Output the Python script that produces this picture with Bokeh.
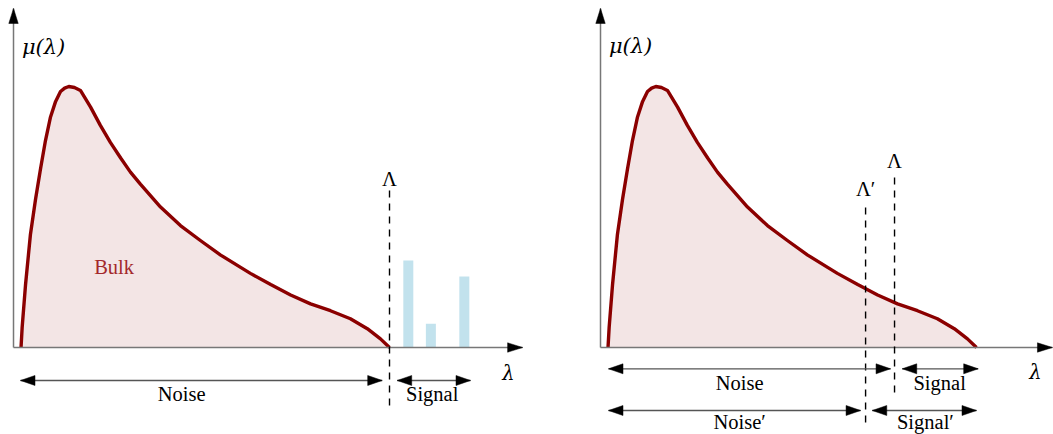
import math
from bokeh.plotting import figure
from bokeh.layouts import row
from bokeh.models import Range1d
from bokeh.core.properties import value
from bokeh.embed import file_html
from bokeh.resources import INLINE

# ---------------- data ----------------
# bulk spectral density mu(lambda)
lam = [0.20, 0.23, 0.32, 0.45, 0.585, 0.72, 0.85, 0.98, 1.12, 1.25, 1.36, 1.47, 1.62,
       1.78, 2.05, 2.31, 2.58, 2.85, 3.11, 3.38, 3.91, 4.44, 4.97, 5.51, 6.04, 6.30,
       6.84, 7.37, 7.90, 8.43, 8.96, 9.41, 9.76, 10.0]
mu = [0.0, 0.77, 2.41, 4.33, 5.67, 6.86, 7.93, 8.81, 9.43, 9.81, 9.94, 10.0, 9.96,
      9.85, 9.21, 8.51, 7.85, 7.26, 6.72, 6.25, 5.38, 4.67, 4.10, 3.54, 3.07, 2.84,
      2.41, 2.01, 1.67, 1.41, 1.10, 0.72, 0.33, 0.0]

# outlier (signal) eigenvalues in the left panel
spike_lam = [10.50, 11.10, 11.99]
spike_height = [3.33, 0.91, 2.72]

cut_left = 10.0          # Lambda, left panel
cut_right = 7.82         # Lambda, right panel
cut_right_prime = 7.05   # Lambda', right panel

y_label = "μ(λ)"
x_label = "λ"
cut_label = "Λ"
cut_label_prime = "Λ′"
bulk_label = "Bulk"
noise_label = "Noise"
signal_label = "Signal"
noise_label_prime = "Noise′"
signal_label_prime = "Signal′"

# ---------------- layout / style ----------------
PX_LAM = 37.6   # pixels per lambda unit
PX_MU = 26.1    # pixels per mu unit
H = 434
W_LEFT = 560
W_RIGHT = 493
Y_BOT, Y_TOP = -3.333, 13.295

CURVE = "#8b0000"
BAR = "#c2e2ed"
AXIS = "#777777"
SHAFT = "#555555"
FONT = value("Liberation Serif")
MATH = value("DejaVu Serif")
FS = "20.5px"


def make_fig(width, x0):
    p = figure(width=width, height=H,
               x_range=Range1d(x0, x0 + width / PX_LAM),
               y_range=Range1d(Y_BOT, Y_TOP),
               x_axis_type=None, y_axis_type=None,
               output_backend="svg", toolbar_location=None,
               min_border=0, min_border_left=0, min_border_right=0,
               min_border_top=0, min_border_bottom=0)
    p.grid.visible = False
    p.outline_line_color = None
    p.background_fill_color = "white"
    p.border_fill_color = "white"
    return p


def head(x0, y0, x1, y1, length=14.5, half=5.0):
    """triangle at end (x1, y1) of arrow from (x0, y0), sized in pixels"""
    dx = (x1 - x0) * PX_LAM
    dy = (y1 - y0) * PX_MU
    n = math.hypot(dx, dy)
    ux, uy = dx / n, dy / n
    bx = x1 * PX_LAM - ux * length
    by = y1 * PX_MU - uy * length
    px, py = -uy, ux
    xs = [x1, (bx + px * half) / PX_LAM, (bx - px * half) / PX_LAM]
    ys = [y1, (by + py * half) / PX_MU, (by - py * half) / PX_MU]
    return xs, ys


def axes(p, x_tip, y_tip):
    p.segment(x0=[0, 0], y0=[0, 0], x1=[x_tip, 0], y1=[0, y_tip],
              line_color=AXIS, line_width=1.5)
    hx, hy = head(0, 0, x_tip, 0, 15, 4.7)
    vx, vy = head(0, 0, 0, y_tip, 15, 4.7)
    p.patches(xs=[hx, vx], ys=[hy, vy], fill_color="black", line_color="black",
              line_width=0.5)


def double_arrow(p, xa, xb, y):
    p.segment(x0=[xa], y0=[y], x1=[xb], y1=[y], line_color=SHAFT, line_width=1.3)
    ax, ay = head(xb, y, xa, y)
    bx, by = head(xa, y, xb, y)
    p.patches(xs=[ax, bx], ys=[ay, by], fill_color="black", line_color="black",
              line_width=0.5)


def label(p, x, y, txt, italic=False, color="black", size=FS, font=FONT):
    p.text(x=[x], y=[y], text=[txt], text_font=font, text_font_size=size,
           text_align="center", text_baseline="alphabetic", text_color=color,
           text_font_style="italic" if italic else "normal")


def curve(p):
    p.varea(x=lam, y1=[0] * len(lam), y2=mu, fill_color=CURVE, fill_alpha=0.1)
    p.line(x=lam, y=mu, line_color=CURVE, line_width=3.4, line_join="round")


def cut(p, x, y0, y1):
    p.segment(x0=[x], y0=[y0], x1=[x], y1=[y1], line_color="black",
              line_width=1.4, line_dash="7 6")


# ---------------- left panel ----------------
left = make_fig(W_LEFT, -0.346)
curve(left)
left.vbar(x=spike_lam, top=spike_height, bottom=0, width=0.266,
          fill_color=BAR, line_color=None)
axes(left, 13.54, 12.99)
cut(left, cut_left, 6.02, -2.41)
label(left, cut_left, 6.45, cut_label)
label(left, 0.80, 11.53, y_label, italic=True, size="21px", font=MATH)
label(left, 13.16, -1.01, x_label, italic=True, size="19.5px", font=MATH)
label(left, 2.676, 3.07, bulk_label, color="#a3292b")
double_arrow(left, 0.186, cut_left - 0.194, -1.264)
double_arrow(left, cut_left + 0.205, 12.154, -1.264)
label(left, 4.47, -1.80, noise_label)
label(left, 11.135, -1.80, signal_label)

# ---------------- right panel ----------------
right = make_fig(W_RIGHT, -1.064)
curve(right)
axes(right, 12.02, 12.99)
cut(right, cut_right_prime, 5.36, -2.91)
cut(right, cut_right, 6.51, -1.72)
label(right, cut_right_prime, 6.07, cut_label_prime)
label(right, cut_right, 7.16, cut_label)
label(right, 0.80, 11.57, y_label, italic=True, size="21px", font=MATH)
label(right, 11.57, -0.95, x_label, italic=True, size="19.5px", font=MATH)
double_arrow(right, 0.213, cut_right - 0.106, -0.816)
double_arrow(right, cut_right + 0.205, 10.045, -0.816)
double_arrow(right, 0.213, cut_right_prime - 0.133, -2.414)
double_arrow(right, cut_right_prime + 0.178, 10.0, -2.414)
label(right, 3.70, -1.343, noise_label)
label(right, 9.02, -1.343, signal_label)
label(right, 3.70, -2.835, noise_label_prime)
label(right, 8.64, -2.835, signal_label_prime)

layout = row(left, right, spacing=0)
open("out.html", "w").write(file_html(layout, INLINE))
